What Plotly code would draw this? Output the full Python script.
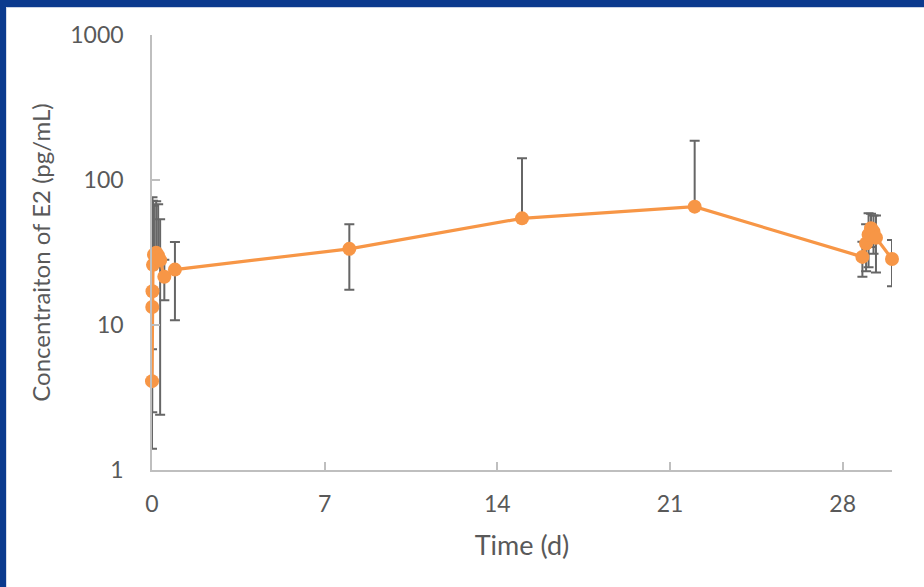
import plotly.graph_objects as go

# Time in days
days = [0.0, 0.01, 0.02, 0.04, 0.08, 0.17, 0.25, 0.33, 0.5, 0.93,
        8.0, 15.0, 22.0,
        28.8, 28.95, 29.05, 29.15, 29.25, 29.35, 30.0]
# Mean E2 concentration (pg/mL)
conc = [4.1, 13.3, 17.1, 26.0, 30.5, 31.5, 30.0, 28.0, 21.5, 24.1,
        33.5, 54.4, 65.5,
        29.5, 36.5, 42.0, 46.5, 44.0, 40.0, 28.5]
# Standard deviation (pg/mL)
sd = [2.7, 10.8, 59.0, 46.0, 36.0, 40.0, 38.0, 25.6, 6.7, 13.3,
      16.0, 87.0, 121.0,
      8.0, 13.0, 17.0, 12.0, 13.0, 17.0, 10.0]

# lower bars that would go below zero are not drawn on a log axis
err_minus = [s if s < c else 0 for s, c in zip(sd, conc)]

y_tickvals = [1, 10, 100, 1000]
y_ticktext = ["1", "10", "100", "1000"]
x_tickvals = [0, 7, 14, 21, 28]

ORANGE = "#F79646"
GREY_TXT = "#595959"
AXIS = "#BFBFBF"
FONT = "Lato, Carlito, Liberation Sans, sans-serif"

fig = go.Figure()
fig.add_trace(go.Scatter(
    x=days, y=conc, mode="lines+markers",
    line=dict(color=ORANGE, width=3.2),
    marker=dict(color=ORANGE, size=14),
    error_y=dict(type="data", symmetric=False, array=sd, arrayminus=err_minus,
                 color="#666666", thickness=2, width=5),
    cliponaxis=False,
    showlegend=False,
))

# plot area: x 152..892 px, y 35..470 px
L, R, T, B = 152, 32, 35, 117
W, H = 924, 587
pw, ph = W - L - R, H - T - B

def px2x(px):
    return (px - L) / pw

def py2y(py):
    return (H - B - py) / ph

shapes = [
    # top blue band
    dict(type="rect", xref="paper", yref="paper", x0=px2x(0), x1=px2x(W),
         y0=py2y(7), y1=py2y(0), fillcolor="#0B3A8E", line=dict(width=0), layer="above"),
    dict(type="rect", xref="paper", yref="paper", x0=px2x(6), x1=px2x(W),
         y0=py2y(8), y1=py2y(7), fillcolor="#C9D3E6", line=dict(width=0), layer="above"),
    # left blue band
    dict(type="rect", xref="paper", yref="paper", x0=px2x(0), x1=px2x(6),
         y0=py2y(H), y1=py2y(0), fillcolor="#0B3A8E", line=dict(width=0), layer="above"),
    dict(type="rect", xref="paper", yref="paper", x0=px2x(6), x1=px2x(7),
         y0=py2y(H), y1=py2y(7), fillcolor="#D5DCEA", line=dict(width=0), layer="above"),
]

fig.update_layout(
    width=W, height=H,
    margin=dict(l=L, r=R, t=T, b=B, pad=0),
    paper_bgcolor="white", plot_bgcolor="white",
    font=dict(family=FONT, color=GREY_TXT, size=23),
    shapes=shapes,
    xaxis=dict(
        range=[0, 30], tickvals=x_tickvals, ticks="inside", ticklen=8,
        tickcolor=AXIS, tickwidth=1.5, showline=True, linecolor=AXIS, linewidth=1.5,
        showgrid=False, zeroline=False, ticklabelstandoff=13,
        tickfont=dict(size=23, color=GREY_TXT),
        title=dict(text="Time (d)", font=dict(size=27, color=GREY_TXT), standoff=20),
    ),
    yaxis=dict(
        type="log", range=[0, 3], tickvals=y_tickvals, ticktext=y_ticktext,
        ticks="inside", ticklen=8, tickcolor=AXIS, tickwidth=1.5,
        showline=True, linecolor=AXIS, linewidth=1.5, showgrid=False, zeroline=False,
        ticklabelstandoff=22, tickfont=dict(size=23, color=GREY_TXT),
        title=dict(text="Concentraiton of E2 (pg/mL)", font=dict(size=24, color=GREY_TXT), standoff=13),
    ),
)

fig.write_html(
    "out.html",
    config={"displayModeBar": False},
    post_script="document.body.style.margin='0';document.body.style.overflow='hidden';",
)
